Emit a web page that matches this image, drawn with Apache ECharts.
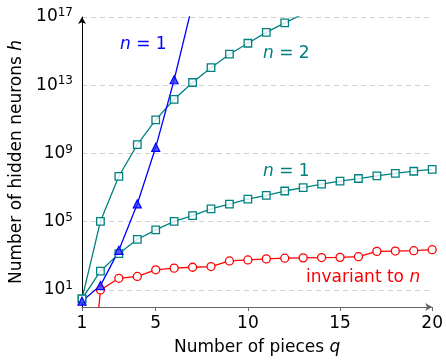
<!DOCTYPE html>
<html><head><meta charset="utf-8">
<script src="https://cdn.jsdelivr.net/npm/echarts@6/dist/echarts.min.js"></script>
<style>html,body{margin:0;padding:0;background:#fff}#c{width:446px;height:361px}</style>
</head><body><div id="c"></div>
<script>
// ---- data ----
const pieces = [1,2,3,4,5,6,7,8,9,10,11,12,13,14,15,16,17,18,19,20];
const invariantToN = [1e-11, 10, 48, 62, 151, 190, 214, 234, 501, 575, 661, 724, 759, 794, 813, 891, 1820, 1905, 1995, 2291];
const tealN1 = [3.0, 126, 1.35e3, 9.1e3, 3.3e4, 1.05e5, 2.3e5, 5.6e5, 1.07e6, 2.1e6, 3.5e6, 6.3e6, 1.0e7, 1.6e7, 2.4e7, 3.4e7, 4.9e7, 6.8e7, 9.1e7, 1.17e8];
const tealN2 = [3.0, 1.05e5, 4.6e7, 3.3e9, 9.3e10, 1.5e12, 1.45e13, 1.07e14, 6.6e14, 2.9e15, 1.26e16, 4.5e16, 1.5e17];
const blueN1 = [2.2, 18, 2.1e3, 1.1e6, 2.3e9, 2.1e13, 6e17];
const xTicks = [1, 5, 10, 15, 20];
const yTickExponents = [1, 5, 9, 13, 17];

const FONT = '"DejaVu Sans"';
const FS = 17;
const pair = (ys) => ys.map((y, i) => [pieces[i], y]);
const italic = (c) => ({fontStyle: 'italic', fontSize: FS, fontFamily: FONT, color: c, fill: c});

const chart = echarts.init(document.getElementById('c'), null, {renderer: 'canvas'});
chart.setOption({
  animation: false,
  textStyle: {fontFamily: FONT},
  grid: {left: 82, right: 13, top: 17, bottom: 52},
  xAxis: {
    type: 'value', min: 1, max: 20,
    name: 'Number of pieces {i|q}', nameLocation: 'middle', nameGap: 32,
    nameTextStyle: {fontSize: FS, color: '#000', fontFamily: FONT, rich: {i: italic('#000')}},
    axisLine: {show: true, lineStyle: {color: '#666', width: 1}, symbol: ['none', 'arrow'], symbolSize: [6, 7]},
    axisTick: {show: true, inside: false, length: 4, lineStyle: {color: '#666'}, customValues: xTicks},
    axisLabel: {fontSize: FS, color: '#000', margin: 8, fontFamily: FONT, customValues: xTicks},
    splitLine: {show: false}
  },
  yAxis: [{
    type: 'log', logBase: 10, min: 1, max: 1e17,
    axisLine: {show: false}, axisTick: {show: false}, axisLabel: {show: false}, splitLine: {show: false}
  }, {
    type: 'value', min: 0, max: 17, position: 'left',
    name: 'Number of hidden neurons {i|h}', nameLocation: 'middle', nameGap: 56,
    nameTextStyle: {fontSize: FS, color: '#000', fontFamily: FONT, rich: {i: italic('#000')}},
    axisLine: {show: true, onZero: false, lineStyle: {color: '#000', width: 1}, symbol: ['none', 'arrow'], symbolSize: [6, 7]},
    axisTick: {show: false, customValues: yTickExponents},
    axisLabel: {
      customValues: yTickExponents, margin: 9,
      formatter: (v) => '{b|10}{s|' + v + '}',
      rich: {b: {fontSize: FS, color: '#000', fontFamily: FONT},
             s: {fontSize: 12, color: '#000', fontFamily: FONT, verticalAlign: 'top', padding: [0, 0, 8, 0]}}
    },
    splitLine: {show: true, lineStyle: {color: '#d0d0d0', type: [5, 4], width: 1}}
  }],
  series: [
    {type: 'line', yAxisIndex: 0, data: pair(invariantToN), clip: true,
     symbol: 'circle', symbolSize: 8, color: '#ff0000',
     lineStyle: {color: '#ff0000', width: 1.3},
     itemStyle: {color: '#fff', borderColor: '#ff0000', borderWidth: 1.3}},
    {type: 'line', yAxisIndex: 0, data: pair(tealN1), clip: true,
     symbol: 'rect', symbolSize: 7.5, color: '#008080',
     lineStyle: {color: '#008080', width: 1.3},
     itemStyle: {color: 'rgba(255,255,255,0.8)', borderColor: '#008080', borderWidth: 1.3}},
    {type: 'line', yAxisIndex: 0, data: pair(tealN2), clip: true,
     symbol: 'rect', symbolSize: 7.5, color: '#008080',
     lineStyle: {color: '#008080', width: 1.3},
     itemStyle: {color: 'rgba(255,255,255,0.8)', borderColor: '#008080', borderWidth: 1.3}},
    {type: 'line', yAxisIndex: 0, data: pair(blueN1), clip: true,
     symbol: 'triangle', symbolSize: 8, color: '#0000ff',
     lineStyle: {color: '#0000ff', width: 1.3},
     itemStyle: {color: 'rgba(40,40,255,0.75)', borderColor: '#0000ff', borderWidth: 1.2}}
  ],
  graphic: [
    {type: 'text', x: 120, y: 45, style: {text: '{i|n} = 1', fill: '#0000ff', fontSize: FS, fontFamily: FONT,
      verticalAlign: 'middle', rich: {i: italic('#0000ff')}}},
    {type: 'text', x: 263, y: 54, style: {text: '{i|n} = 2', fill: '#008080', fontSize: FS, fontFamily: FONT,
      verticalAlign: 'middle', rich: {i: italic('#008080')}}},
    {type: 'text', x: 263, y: 172, style: {text: '{i|n} = 1', fill: '#008080', fontSize: FS, fontFamily: FONT,
      verticalAlign: 'middle', rich: {i: italic('#008080')}}},
    {type: 'text', x: 306, y: 278, style: {text: 'invariant to {i|n}', fill: '#ff0000', fontSize: FS, fontFamily: FONT,
      verticalAlign: 'middle', rich: {i: italic('#ff0000')}}}
  ]
});
</script></body></html>
